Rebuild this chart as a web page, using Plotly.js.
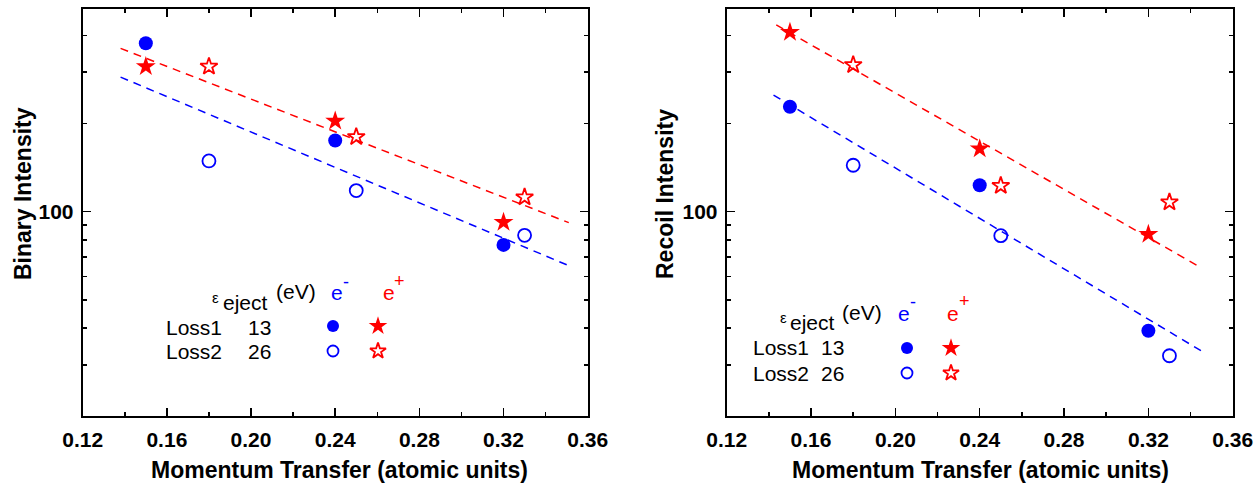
<!DOCTYPE html>
<html>
<head>
<meta charset="utf-8">
<script src="https://cdn.plot.ly/plotly-3.0.1.min.js"></script>
<style>html,body{margin:0;padding:0;background:#fff;}#chart{width:1260px;height:487px;}</style>
</head>
<body>
<div id="chart"></div>
<script>
// ---- data ----
const qLoss1 = [0.15, 0.24, 0.32];
const qLoss2 = [0.18, 0.25, 0.33];

const binaryElectronLoss1 = [376, 175, 77];
const binaryPositronLoss1 = [313, 204, 92];
const binaryElectronLoss2 = [149, 118, 83];
const binaryPositronLoss2 = [313, 180, 112];

const binaryFitQ = [0.138, 0.351];
const binaryFitElectron = [288, 65.4];
const binaryFitPositron = [361, 91.7];

const recoilElectronLoss1 = [228, 123, 39.2];
const recoilPositronLoss1 = [410, 164, 83.7];
const recoilElectronLoss2 = [144, 82.8, 32.2];
const recoilPositronLoss2 = [317, 122.6, 107.7];

const recoilFitQElectron = [0.1422, 0.3468];
const recoilFitElectron = [250, 32.9];
const recoilFitQPositron = [0.1435, 0.3433];
const recoilFitPositron = [434, 65.4];

const xTickVals = [0.12, 0.16, 0.20, 0.24, 0.28, 0.32, 0.36];
const xTickText = ['0.12', '0.16', '0.20', '0.24', '0.28', '0.32', '0.36'];
const yTickVals = [100];
const yTickText = ['100'];
const yMinorVals = [30, 40, 50, 60, 70, 80, 90, 200, 300, 400];

const BLUE = '#0000ff', RED = '#ff0000';
const FONT = 'Liberation Sans, Arial, Helvetica, sans-serif';

function pts(x, y, xa, ya, color, symbol, size, open) {
  return {
    x: x, y: y, xaxis: xa, yaxis: ya, type: 'scatter', mode: 'markers',
    showlegend: false, hoverinfo: 'skip', cliponaxis: false,
    marker: {
      symbol: symbol, size: size, color: color,
      line: {color: color, width: open ? 1.8 : 0}
    }
  };
}
function fit(x, y, xa, ya, color) {
  return {x: x, y: y, xaxis: xa, yaxis: ya, type: 'scatter', mode: 'lines',
    showlegend: false, hoverinfo: 'skip',
    line: {color: color, width: 1.5, dash: '8px,6px'}};
}

const traces = [
  fit(binaryFitQ, binaryFitPositron, 'x', 'y', RED),
  fit(binaryFitQ, binaryFitElectron, 'x', 'y', BLUE),
  pts(qLoss1, binaryElectronLoss1, 'x', 'y', BLUE, 'circle', 14, false),
  pts(qLoss2, binaryElectronLoss2, 'x', 'y', BLUE, 'circle-open', 13, true),
  pts(qLoss1, binaryPositronLoss1, 'x', 'y', RED, 'star', 15, false),
  pts(qLoss2, binaryPositronLoss2, 'x', 'y', RED, 'star-open', 13, true),

  fit(recoilFitQPositron, recoilFitPositron, 'x2', 'y2', RED),
  fit(recoilFitQElectron, recoilFitElectron, 'x2', 'y2', BLUE),
  pts(qLoss1, recoilElectronLoss1, 'x2', 'y2', BLUE, 'circle', 14, false),
  pts(qLoss2, recoilElectronLoss2, 'x2', 'y2', BLUE, 'circle-open', 13, true),
  pts(qLoss1, recoilPositronLoss1, 'x2', 'y2', RED, 'star', 15, false),
  pts(qLoss2, recoilPositronLoss2, 'x2', 'y2', RED, 'star-open', 13, true)
];

// legend keys drawn on an invisible full-figure overlay axis
const W = 1260, H = 487;
function key(px, py, color, symbol, size, open) {
  return pts([px / W], [1 - py / H], 'x3', 'y3', color, symbol, size, open);
}
traces.push(
  key(333, 326, BLUE, 'circle', 12, false),
  key(378, 326, RED, 'star', 14, false),
  key(333, 351, BLUE, 'circle-open', 11, true),
  key(378, 351, RED, 'star-open', 12, true),
  key(907, 348, BLUE, 'circle', 12, false),
  key(951, 348, RED, 'star', 14, false),
  key(907, 373, BLUE, 'circle-open', 11, true),
  key(951, 373, RED, 'star-open', 12, true)
);

function xAxis(domain, anchor) {
  return {
    domain: domain, anchor: anchor, range: [0.12, 0.36],
    tickmode: 'array', tickvals: xTickVals, ticktext: xTickText.map(t => '<b>' + t + '</b>'),
    ticks: 'inside', ticklen: 8, tickwidth: 1.5, tickcolor: '#000',
    minor: {dtick: 0.02, tick0: 0.12, ticks: 'inside', ticklen: 4, tickwidth: 1.5, tickcolor: '#000'},
    showline: true, linewidth: 2, linecolor: '#000', mirror: 'allticks',
    showgrid: false, zeroline: false,
    tickfont: {family: FONT, size: 21, color: '#000'},
    ticklabelstandoff: 4
  };
}
function yAxis(anchor) {
  return {
    domain: [1 - 415.7 / H, 1 - 9 / H], anchor: anchor, type: 'log',
    range: [Math.log10(20.1), Math.log10(492)],
    tickmode: 'array', tickvals: yTickVals, ticktext: yTickText.map(t => '<b>' + t + '</b>'),
    ticks: 'inside', ticklen: 8, tickwidth: 1.5, tickcolor: '#000',
    minor: {tickmode: 'array', tickvals: yMinorVals, ticks: 'inside', ticklen: 4, tickwidth: 1.5, tickcolor: '#000'},
    showline: true, linewidth: 2, linecolor: '#000', mirror: 'allticks',
    showgrid: false, zeroline: false,
    tickfont: {family: FONT, size: 21, color: '#000'},
    ticklabelstandoff: 3
  };
}

function txt(text, px, py, size, color, opts) {
  return Object.assign({
    text: text, x: px / W, y: 1 - py / H, xref: 'paper', yref: 'paper',
    xanchor: 'left', yanchor: 'middle', showarrow: false,
    font: {family: FONT, size: size, color: color}
  }, opts || {});
}

const annotations = [
  // axis titles
  txt('<b>Binary Intensity</b>', 23, 194, 23, '#000', {xanchor: 'center', textangle: -90}),
  txt('<b>Recoil Intensity</b>', 665, 194, 23, '#000', {xanchor: 'center', textangle: -90}),
  txt('<b>Momentum Transfer (atomic units)</b>', 339, 470, 23, '#000', {xanchor: 'center'}),
  txt('<b>Momentum Transfer (atomic units)</b>', 980, 470, 23, '#000', {xanchor: 'center'}),

  // left legend
  txt('ε', 215, 297, 15, '#000', {xanchor: 'center'}),
  txt('eject', 221, 302, 21, '#000'),
  txt('(eV)', 274, 291, 21, '#000'),
  txt('e', 329, 292, 21, BLUE),
  txt('-', 341, 282, 18, BLUE),
  txt('e', 381, 292, 21, RED),
  txt('+', 392, 281, 18, RED),
  txt('Loss1', 164, 327, 21, '#000'),
  txt('13', 246, 327, 21, '#000'),
  txt('Loss2', 164, 351, 21, '#000'),
  txt('26', 246, 351, 21, '#000'),

  // right legend
  txt('ε', 783, 317, 15, '#000', {xanchor: 'center'}),
  txt('eject', 788, 322, 21, '#000'),
  txt('(eV)', 840, 312, 21, '#000'),
  txt('e', 896, 313, 21, BLUE),
  txt('-', 908, 302, 18, BLUE),
  txt('e', 945, 313, 21, RED),
  txt('+', 957, 301, 18, RED),
  txt('Loss1', 751, 347, 21, '#000'),
  txt('13', 819, 347, 21, '#000'),
  txt('Loss2', 751, 373, 21, '#000'),
  txt('26', 819, 373, 21, '#000')
];

const layout = {
  width: W, height: H,
  margin: {l: 0, r: 0, t: 0, b: 0, pad: 0},
  paper_bgcolor: '#fff', plot_bgcolor: 'rgba(0,0,0,0)',
  showlegend: false,
  font: {family: FONT, color: '#000'},
  xaxis: xAxis([82.7 / W, 587.7 / W], 'y'),
  yaxis: yAxis('x'),
  xaxis2: xAxis([726.7 / W, 1232.7 / W], 'y2'),
  yaxis2: yAxis('x2'),
  xaxis3: {domain: [0, 1], range: [0, 1], anchor: 'y3', visible: false, fixedrange: true},
  yaxis3: {domain: [0, 1], range: [0, 1], anchor: 'x3', visible: false, fixedrange: true},
  annotations: annotations
};

Plotly.newPlot('chart', traces, layout, {staticPlot: true, displayModeBar: false});
</script>
</body>
</html>
